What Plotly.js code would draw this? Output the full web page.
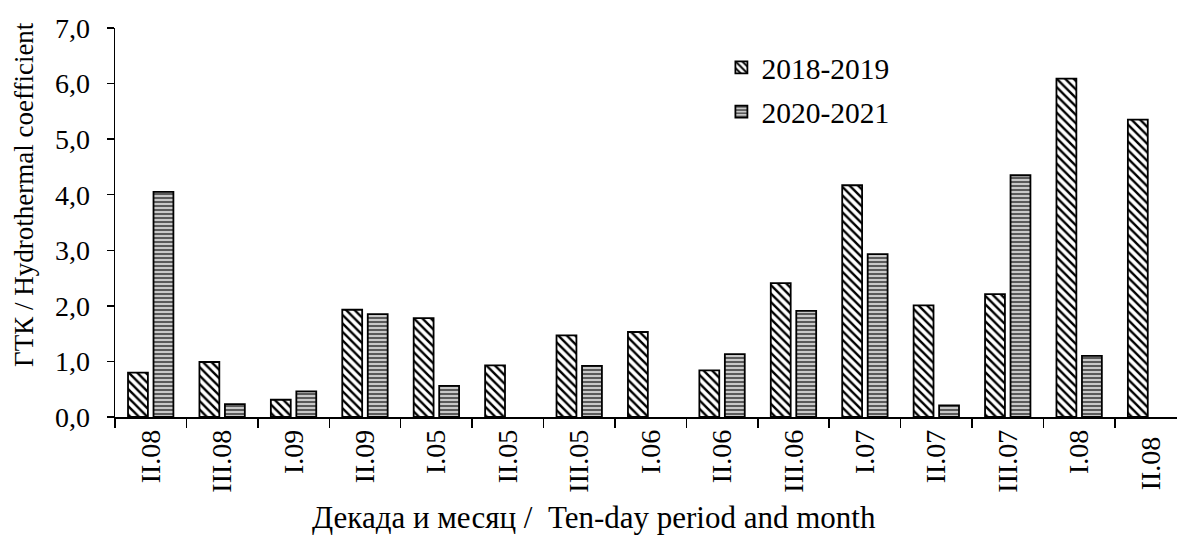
<!DOCTYPE html>
<html>
<head>
<meta charset="utf-8">
<script src="https://cdn.plot.ly/plotly-3.0.1.min.js"></script>
<style>html,body{margin:0;padding:0;background:#fff;}#chart{width:1177px;height:537px;}</style>
</head>
<body>
<div id="chart"></div>
<script>
const categories = ["II.08","III.08","I.09","II.09","I.05","II.05","III.05","I.06","II.06","III.06","I.07","II.07","III.07","I.08","II.08 "];
const series1Name = "2018-2019";
const series2Name = "2020-2021";
const series1 = [0.80, 0.99, 0.31, 1.93, 1.78, 0.93, 1.47, 1.53, 0.84, 2.41, 4.17, 2.01, 2.21, 6.09, 5.35];
const series2 = [4.05, 0.23, 0.46, 1.85, 0.56, null, 0.92, null, 1.13, 1.91, 2.93, 0.21, 4.35, 1.10, null];
const yTicks = [0,1,2,3,4,5,6,7];
const xTitle = "Декада и месяц /  Ten-day period and month";
const yTitle = "ГТК / Hydrothermal coefficient";

const font = "Liberation Serif";

const traces = [
  {
    type: "bar", name: series1Name, x: categories, y: series1, legendgroup: "a",
    marker: {
      color: "#ffffff",
      line: {color: "#000", width: 1.8},
      pattern: {shape: "\\", fgcolor: "#000", bgcolor: "#fff", size: 6, solidity: 0.4}
    }
  },
  {
    type: "bar", name: series2Name, x: categories, y: series2, legendgroup: "b",
    marker: {
      color: "#a0a0a0",
      line: {color: "#000", width: 1.8},
      pattern: {shape: "-", fgcolor: "#5a5a5a", bgcolor: "#c8c8c8", size: 4, solidity: 0.5}
    }
  }
];

const layout = {
  width: 1177, height: 537,
  margin: {l: 115, r: 0, t: 28, b: 120, pad: 0},
  paper_bgcolor: "#fff", plot_bgcolor: "#fff",
  separators: ", ",
  barmode: "group",
  bargap: 0.286,
  bargroupgap: 0.22,
  showlegend: true,
  legend: {
    x: 0.571, y: 0.965, xanchor: "left", yanchor: "top",
    font: {family: font, size: 29.5, color: "#000"},
    bgcolor: "rgba(0,0,0,0)",
    itemwidth: 30,
    tracegroupgap: 3
  },
  xaxis: {
    type: "category",
    range: [-0.5, 14.37],
    showline: true, linecolor: "#000", linewidth: 1.5,
    ticks: "outside", ticklen: 9, tickwidth: 1.5, tickcolor: "#000",
    tickson: "boundaries",
    tickangle: -90,
    tickfont: {family: font, size: 28, color: "#000"},
    showgrid: false, zeroline: false
  },
  yaxis: {
    range: [0, 7],
    tickvals: yTicks,
    tickformat: ".1f",
    showline: true, linecolor: "#000", linewidth: 1.5,
    ticks: "outside", ticklen: 7, tickwidth: 1.5, tickcolor: "#000",
    ticklabelstandoff: 11,
    tickfont: {family: font, size: 28, color: "#000"},
    showgrid: false, zeroline: false
  },
  annotations: [
    {
      text: xTitle, showarrow: false,
      xref: "paper", yref: "paper", x: 0.4506, y: 0, xanchor: "center", yanchor: "middle",
      yshift: -100,
      font: {family: font, size: 31, color: "#000"}
    },
    {
      text: yTitle, showarrow: false, textangle: -90,
      xref: "paper", yref: "paper", x: 0, y: 0.571, xanchor: "center", yanchor: "middle",
      xshift: -91,
      font: {family: font, size: 27, color: "#000"}
    }
  ]
};

Plotly.newPlot("chart", traces, layout, {displayModeBar: false, staticPlot: true});
</script>
</body>
</html>
